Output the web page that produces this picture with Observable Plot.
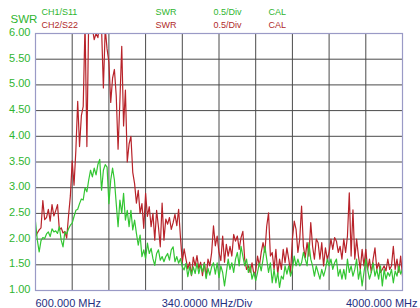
<!DOCTYPE html>
<html>
<head>
<meta charset="utf-8">
<script src="https://cdn.jsdelivr.net/npm/d3@7"></script>
<script src="https://cdn.jsdelivr.net/npm/@observablehq/plot@0.6"></script>
<style>
  html, body { margin: 0; padding: 0; background: #fff; }
  #chart svg { display: block; }
</style>
</head>
<body>
<div id="chart"></div>
<script>
// Sweep definition (MHz)
const freqStart = 600;
const freqStep = 17;
const xTicks = [600, 940, 1280, 1620, 1960, 2300, 2640, 2980, 3320, 3660, 4000];
const yTicks = [1.0, 1.5, 2.0, 2.5, 3.0, 3.5, 4.0, 4.5, 5.0, 5.5, 6.0];
const bottomLabels = ["600.000 MHz", "340.0000 MHz/Div", "4000.000 MHz"];
const header1 = ["CH1/S11", "SWR", "0.5/Div", "CAL"];
const header2 = ["CH2/S22", "SWR", "0.5/Div", "CAL"];
const axisLabel = "SWR";

// CH1/S11 SWR (green)
const s11 = [
2.34,1.98,1.75,1.97,2.03,2.01,2.10,2.14,2.05,2.20,2.14,2.16,2.11,2.24,1.98,1.85,2.14,2.10,2.20,2.27,
2.31,2.44,2.56,2.58,2.69,2.78,2.76,3.00,2.92,3.15,3.34,3.21,3.38,3.25,3.45,3.55,2.95,3.34,3.45,3.40,
2.69,3.15,3.38,3.15,2.69,2.24,2.76,2.50,2.89,2.37,2.56,2.24,2.56,2.18,2.37,2.11,1.88,2.08,1.66,1.79,
1.62,1.92,1.72,1.82,1.62,1.49,1.72,1.79,1.59,1.66,1.56,1.66,1.72,1.59,1.79,1.85,1.56,1.66,1.53,1.62,
1.46,1.40,1.53,1.27,1.46,1.30,1.46,1.33,1.53,1.33,1.49,1.36,1.53,1.23,1.43,1.30,1.46,1.54,1.32,1.54,
1.25,1.48,1.35,1.09,1.35,1.61,1.41,1.54,1.35,1.61,1.74,1.48,1.86,1.67,1.48,1.61,1.35,1.48,1.22,1.35,
1.19,1.35,1.54,1.38,1.61,1.86,1.61,1.35,1.54,1.15,1.41,1.15,1.35,1.06,1.28,1.22,1.48,1.32,1.48,1.28,
1.41,1.67,1.48,1.61,1.48,1.54,1.74,1.61,1.48,1.93,1.61,1.48,1.28,1.48,1.35,1.22,1.41,1.28,1.41,1.61,
1.48,1.61,1.41,1.54,1.61,1.28,1.41,1.22,1.41,1.22,1.61,1.35,1.48,1.28,1.41,1.61,1.22,1.41,1.09,1.35,
1.61,1.41,1.22,1.35,1.54,1.28,1.41,1.22,1.48,1.09,1.41,1.22,1.35,1.28,1.41,1.15,1.38,1.28,1.48,1.32,
1.41
];

// CH2/S22 SWR (red)
const s22 = [
2.05,2.12,2.18,2.22,2.75,2.38,2.42,2.58,2.35,2.67,2.45,2.55,2.67,2.18,2.22,2.12,2.15,2.02,2.45,2.84,
3.52,3.05,3.73,4.68,3.80,4.40,4.58,6.20,3.80,6.30,6.20,6.10,5.88,6.00,5.92,6.20,6.10,4.94,6.10,5.70,
5.44,4.66,5.13,5.30,4.79,3.75,4.69,5.75,4.20,4.90,3.50,3.85,4.00,3.30,3.08,2.70,2.95,2.50,2.69,2.21,
2.89,2.44,2.63,2.24,2.50,1.98,2.56,2.24,1.85,2.70,1.98,2.39,2.29,2.42,2.19,2.32,2.48,2.26,2.58,2.03,
1.55,1.81,1.61,1.42,1.55,1.29,1.65,1.48,1.68,1.42,1.55,1.29,1.55,1.26,1.61,1.48,1.74,2.26,1.87,2.06,
1.74,1.58,2.06,1.55,1.90,1.67,1.86,1.67,2.09,1.96,2.06,1.80,2.03,2.15,1.61,1.41,1.48,1.35,1.54,1.32,
1.38,1.67,1.48,1.74,1.93,1.74,2.25,2.51,1.67,1.74,1.41,1.80,1.32,1.61,1.41,1.80,1.54,1.83,1.61,1.35,
2.00,2.35,2.19,1.74,2.00,2.64,1.86,1.64,1.93,1.67,2.32,1.86,1.61,2.00,1.93,1.61,1.93,1.48,1.83,1.61,
1.74,2.00,1.80,2.03,1.96,1.74,1.86,1.61,2.00,1.74,2.06,2.90,1.67,2.57,1.61,2.00,1.67,1.41,1.80,1.48,
1.80,1.41,1.61,1.35,1.61,1.83,1.41,1.54,1.35,1.41,1.48,1.38,1.61,1.41,1.48,1.86,1.41,1.61,1.35,1.67,
1.28
];

const green = "#33c633";
const greenText = "#2fb52f";
const red = "#b8232a";
const redText = "#b02a2a";
const navy = "#1f2f80";

const toRows = (arr) => arr.map((v, i) => ({f: freqStart + i * freqStep, v}));
const rows11 = toRows(s11);
const rows22 = toRows(s22);

const headerX = [6, 120, 178, 233]; // offsets from frame left
const font = "'Liberation Sans', Arial, Helvetica, sans-serif";

const marks = [
  Plot.ruleX(xTicks.slice(1, -1), {stroke: "#4a4a4a", strokeWidth: 1}),
  Plot.ruleY(yTicks.slice(1, -1), {stroke: "#4a4a4a", strokeWidth: 1}),
  Plot.line(rows22, {x: "f", y: "v", stroke: red, strokeWidth: 1.2, clip: true}),
  Plot.line(rows11, {x: "f", y: "v", stroke: green, strokeWidth: 1.2, clip: true}),
  Plot.frame({stroke: "#9a9ac6", strokeWidth: 1.2}),
  // y tick labels
  Plot.text(yTicks, {y: d => d, text: d => d.toFixed(2), frameAnchor: "left", dx: -5, dy: -1, textAnchor: "end", lineAnchor: "middle", fill: greenText, fontSize: 11}),
  // axis label
  Plot.text([axisLabel], {frameAnchor: "top-left", dx: -25, dy: -14, textAnchor: "start", lineAnchor: "middle", fill: greenText, fontSize: 11.5}),
  // header rows
  ...header1.map((t, i) => Plot.text([t], {frameAnchor: "top-left", dx: headerX[i], dy: -21, textAnchor: "start", lineAnchor: "middle", fill: greenText, fontSize: 9})),
  ...header2.map((t, i) => Plot.text([t], {frameAnchor: "top-left", dx: headerX[i], dy: -8, textAnchor: "start", lineAnchor: "middle", fill: redText, fontSize: 9})),
  // bottom labels
  Plot.text([bottomLabels[0]], {frameAnchor: "bottom-left", dx: 0, dy: 13, textAnchor: "start", lineAnchor: "middle", fill: navy, fontSize: 11}),
  Plot.text([bottomLabels[1]], {frameAnchor: "bottom", dx: -12, dy: 13, textAnchor: "middle", lineAnchor: "middle", fill: navy, fontSize: 11}),
  Plot.text([bottomLabels[2]], {frameAnchor: "bottom-right", dx: 15, dy: 13, textAnchor: "end", lineAnchor: "middle", fill: navy, fontSize: 11})
];

const chart = Plot.plot({
  width: 420,
  height: 308,
  marginLeft: 35,
  marginRight: 18,
  marginTop: 33,
  marginBottom: 18,
  x: {domain: [600, 4000], axis: null},
  y: {domain: [1, 6], axis: null},
  style: {background: "#fff", fontFamily: font, overflow: "visible"},
  marks
});
document.getElementById("chart").appendChild(chart);
</script>
</body>
</html>
